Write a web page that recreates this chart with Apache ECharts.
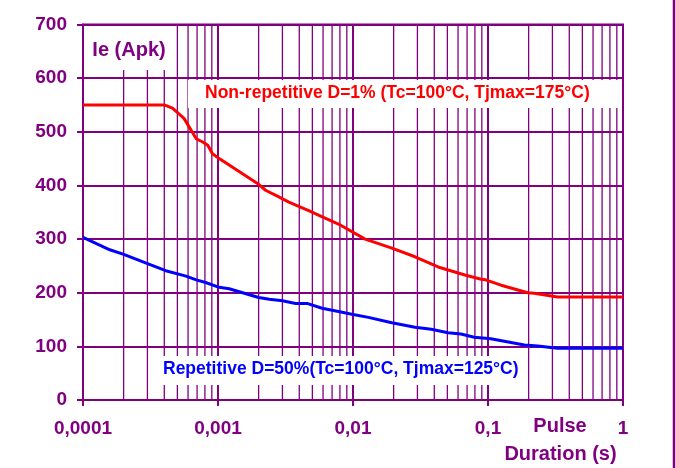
<!DOCTYPE html>
<html>
<head>
<meta charset="utf-8">
<script src="https://cdn.jsdelivr.net/npm/echarts@6/dist/echarts.min.js"></script>
<style>html,body{margin:0;padding:0;background:#fff;}#c{width:676px;height:468px;}</style>
</head>
<body>
<div id="c"></div>
<script>
// ---- data ----
var nonRepX = [0.0001, 0.0004, 0.00046, 0.00056, 0.00069, 0.00077, 0.00084, 0.00091, 0.00102, 0.002, 0.00225, 0.0028, 0.00335, 0.0047, 0.0056, 0.0078, 0.0123, 0.0194, 0.0288, 0.0427, 0.0674, 0.089, 0.096, 0.125, 0.197, 0.22, 0.327, 1];
var nonRepY = [550, 550, 544, 525, 487, 481, 475, 459, 450, 402, 391, 379, 369, 353, 344, 328, 300, 283, 267, 248, 233, 225, 224, 214, 200, 199, 192, 192];
var repX = [0.0001, 0.000158, 0.000198, 0.000294, 0.00041, 0.00058, 0.00069, 0.00081, 0.00102, 0.00121, 0.002, 0.0024, 0.003, 0.00376, 0.00457, 0.0059, 0.0078, 0.0098, 0.013, 0.0194, 0.0288, 0.038, 0.0506, 0.063, 0.079, 0.105, 0.186, 0.234, 0.327, 1];
var repY = [303, 280, 272, 255, 241, 231, 224, 219, 210, 207.5, 191, 188, 185, 180, 180, 171, 165, 160, 154, 144, 135.5, 132, 125.5, 123, 117, 114, 102.5, 100.7, 96.3, 96.3];
var xTickLabels = ['0,0001', '0,001', '0,01', '0,1', '1'];
var decades = [0.0001, 0.001, 0.01, 0.1];
var minorMultipliers = [2, 3, 4, 5, 6, 7, 8, 9];
var labelNonRep = 'Non-repetitive D=1% (Tc=100°C, Tjmax=175°C)';
var labelRep = 'Repetitive D=50%(Tc=100°C, Tjmax=125°C)';
var yTitle = 'Ie (Apk)';

var PURPLE = '#800080';
var FONT = '"Liberation Sans", Arial, sans-serif';

function pairs(xs, ys) { return xs.map(function (x, i) { return [x, ys[i]]; }); }
var minorValues = [];
decades.forEach(function (d) {
  minorMultipliers.forEach(function (m) { minorValues.push([d * m]); });
});

var chart = echarts.init(document.getElementById('c'), null, { renderer: 'canvas' });
chart.setOption({
  backgroundColor: '#fff',
  animation: false,
  grid: { left: 83, right: 53, top: 24.5, bottom: 68, show: true, borderColor: PURPLE, borderWidth: 2, backgroundColor: 'transparent' },
  xAxis: {
    type: 'log', logBase: 10, min: 0.0001, max: 1,
    axisLine: { show: true, lineStyle: { color: PURPLE, width: 2 } },
    axisTick: { show: true, length: 6, lineStyle: { color: PURPLE, width: 2 } },
    splitLine: { show: true, lineStyle: { color: PURPLE, width: 2 } },
    minorTick: { show: false }, minorSplitLine: { show: false },
    axisLabel: {
      margin: 19, color: PURPLE, fontSize: 19, fontWeight: 'bold', fontFamily: FONT,
      showMinLabel: true, showMaxLabel: true,
      formatter: function (v) { var i = Math.round(Math.log10(v)) + 4; return xTickLabels[i] || ''; }
    }
  },
  yAxis: {
    type: 'value', min: 0, max: 700, interval: 100,
    axisLine: { show: true, lineStyle: { color: PURPLE, width: 2 } },
    axisTick: { show: true, length: 6, lineStyle: { color: PURPLE, width: 2 } },
    splitLine: { show: true, lineStyle: { color: PURPLE, width: 2 } },
    axisLabel: { margin: 16, color: PURPLE, fontSize: 19, fontWeight: 'bold', fontFamily: FONT }
  },
  series: [
    {
      type: 'custom', z: 1, silent: true, data: minorValues,
      encode: { x: 0 },
      renderItem: function (params, api) {
        var x = api.value(0);
        var p1 = api.coord([x, 0]);
        var p2 = api.coord([x, 700]);
        return { type: 'line', shape: { x1: p1[0], y1: p1[1], x2: p2[0], y2: p2[1] }, style: { stroke: PURPLE, lineWidth: 1.3 } };
      }
    },
    {
      type: 'line', name: 'rep', data: pairs(repX, repY), showSymbol: false, symbol: 'none', z: 5,
      lineStyle: { color: '#0000FF', width: 3 }
    },
    {
      type: 'line', name: 'nonrep', data: pairs(nonRepX, nonRepY), showSymbol: false, symbol: 'none', z: 5,
      lineStyle: { color: '#FF0000', width: 3 }
    }
  ],
  graphic: [
    { type: 'rect', z: 50, shape: { x: 85, y: 26, width: 91, height: 44 }, style: { fill: '#fff' } },
    { type: 'text', z: 51, style: { text: yTitle, x: 129, y: 50, fill: PURPLE, font: 'bold 20px ' + FONT, textAlign: 'center', textVerticalAlign: 'middle', align: 'center', verticalAlign: 'middle' } },
    { type: 'rect', z: 50, shape: { x: 188, y: 80, width: 431, height: 28 }, style: { fill: '#fff' } },
    { type: 'text', z: 51, style: { text: labelNonRep, x: 205, y: 93, fill: '#FF0000', font: 'bold 17.5px ' + FONT, textAlign: 'left', textVerticalAlign: 'middle', align: 'left', verticalAlign: 'middle' } },
    { type: 'rect', z: 50, shape: { x: 157, y: 356, width: 367, height: 29 }, style: { fill: '#fff' } },
    { type: 'text', z: 51, style: { text: labelRep, x: 163, y: 369, fill: '#0000FF', font: 'bold 17.5px ' + FONT, textAlign: 'left', textVerticalAlign: 'middle', align: 'left', verticalAlign: 'middle' } },
    { type: 'text', z: 51, style: { text: 'Pulse', x: 560, y: 426.5, fill: PURPLE, font: 'bold 20px ' + FONT, textAlign: 'center', textVerticalAlign: 'middle', align: 'center', verticalAlign: 'middle' } },
    { type: 'text', z: 51, style: { text: 'Duration (s)', x: 560.5, y: 454, fill: PURPLE, font: 'bold 20px ' + FONT, textAlign: 'center', textVerticalAlign: 'middle', align: 'center', verticalAlign: 'middle' } },
    { type: 'line', z: 51, shape: { x1: 674, y1: 0, x2: 674, y2: 468 }, style: { stroke: PURPLE, lineWidth: 2.5 } }
  ]
});
</script>
</body>
</html>
